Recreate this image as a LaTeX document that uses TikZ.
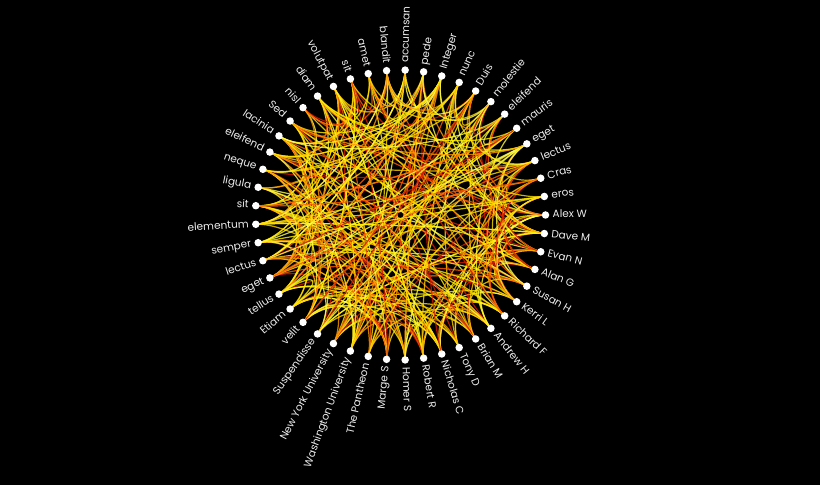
\documentclass[tikz,border=0pt]{standalone}
\usepackage{fontspec}
\setmainfont{Poppins}
\usetikzlibrary{calc}
\pgfdeclarelayer{back}
\pgfdeclarelayer{bg}
\pgfsetlayers{back,bg,main}
\definecolor{ec1}{HTML}{FFFF50}
\definecolor{ec2}{HTML}{FFFA30}
\definecolor{ec3}{HTML}{FFF000}
\definecolor{ec4}{HTML}{FFE000}
\definecolor{ec5}{HTML}{FFD000}
\definecolor{ec6}{HTML}{FF9A00}
\definecolor{ec7}{HTML}{FF5A00}
\definecolor{ec8}{HTML}{D81800}
\definecolor{labtext}{HTML}{EDEDED}
\begin{document}
\begin{tikzpicture}[x=1pt,y=1pt,
  dot/.style={circle,fill=white,inner sep=0pt,minimum size=7.5pt},
  lab/.style={text=labtext,font=\fontsize{10.5}{12}\selectfont,inner sep=0pt},
  edge/.style={line width=1.2pt,opacity=0.8}]
\begin{pgfonlayer}{back}
\fill[black] (0,0) rectangle (820,485);
\end{pgfonlayer}
\useasboundingbox (0,0) rectangle (820,485);
\coordinate (O) at (400.5,270);
\foreach \nm [count=\i from 0] in {Alex W,Dave M,Evan N,Alan G,Susan H,Kerri L,Richard F,Andrew H,Brian M,Tony D,Nicholas C,Robert R,Homer S,Marge S,The Pantheon,Washington University,New York University,Suspendisse,velit,Etiam,tellus,eget,lectus,semper,elementum,sit,ligula,neque,eleifend,lacinia,Sed,nisl,diam,volutpat,sit,amet,blandit,accumsan,pede,Integer,nunc,Duis,molestie,eleifend,mauris,eget,lectus,Cras,eros}{
  \pgfmathsetmacro\a{-7.3469388*\i}
  \node[dot] (n\i) at ($(O)+(\a:145)$) {};
  \pgfmathtruncatemacro\side{(\i<13)||(\i>36)}
  \ifnum\side=1
    \node[lab,anchor=mid west,rotate=\a] (l\i) at ($(O)+(\a:152)$) {\nm};
  \else
    \pgfmathsetmacro\b{\a+180}
    \node[lab,anchor=mid east,rotate=\b] (l\i) at ($(O)+(\a:152)$) {\nm};
  \fi
}
\begin{pgfonlayer}{bg}
\pgfmathsetseed{12345}
\foreach \i in {0,...,48}{
  \foreach \k in {1,...,6}{
    \pgfmathtruncatemacro\j{mod(\i+random(1,48),49)}
    \pgfmathtruncatemacro\c{random(1,8)}
    \draw[edge,ec\c] (n\i.center) .. controls ($(n\i.center)!0.32!(O)$) and ($(n\j.center)!0.32!(O)$) .. (n\j.center);
  }
}
\end{pgfonlayer}
\end{tikzpicture}
\end{document}
